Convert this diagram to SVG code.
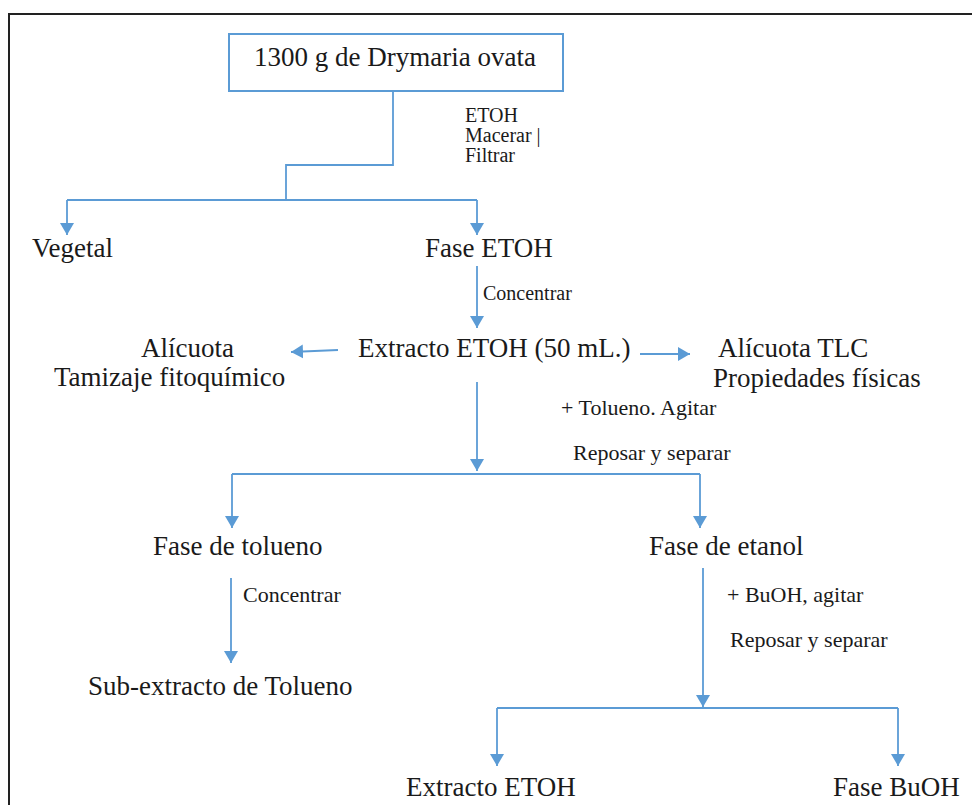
<svg xmlns="http://www.w3.org/2000/svg" width="972" height="805" viewBox="0 0 972 805">
<style>
text{font-family:'Liberation Serif','Tinos','Times New Roman','DejaVu Serif',serif;fill:#1a1a1a}
.t{font-size:27px}
.s{font-size:20px}
.m{font-size:22px}
.c{stroke:#5B9BD5;stroke-width:1.8;fill:none}
.a{stroke:#5B9BD5;stroke-width:1.8;fill:none;marker-end:url(#ah)}
</style>
<defs>
<marker id="ah" viewBox="0 -7 12 14" refX="12" refY="0" markerWidth="12" markerHeight="14" markerUnits="userSpaceOnUse" orient="auto">
<path d="M0,-7 L12,0 L0,7 z" fill="#5B9BD5"/>
</marker>
</defs>
<rect x="0" y="0" width="972" height="805" fill="#ffffff"/>
<path d="M9,810 V14 H980" fill="none" stroke="#222" stroke-width="2"/>
<g id="connectors">
<polyline class="c" points="393,91 393,165 286,165 286,200"/>
<line class="c" x1="67" y1="200" x2="477" y2="200"/>
<line class="a" x1="67" y1="200" x2="67" y2="235"/>
<line class="a" x1="477" y1="200" x2="477" y2="235"/>
<line class="a" x1="477" y1="266" x2="477" y2="328"/>
<line class="a" x1="338" y1="350" x2="291" y2="352"/>
<line class="a" x1="640" y1="354" x2="690" y2="354"/>
<line class="a" x1="477" y1="382" x2="477" y2="471"/>
<line class="c" x1="232" y1="474" x2="700" y2="474"/>
<line class="a" x1="232" y1="474" x2="232" y2="528"/>
<line class="a" x1="700" y1="474" x2="700" y2="528"/>
<line class="a" x1="231" y1="578" x2="231" y2="663"/>
<line class="a" x1="703" y1="568" x2="703" y2="707"/>
<line class="c" x1="497" y1="708" x2="898" y2="708"/>
<line class="a" x1="497" y1="708" x2="497" y2="766"/>
<line class="a" x1="898" y1="708" x2="898" y2="766"/>
</g>
<g id="labels">
<text class="s" x="465" y="122">ETOH</text>
<text class="s" x="465" y="142">Macerar |</text>
<text class="s" x="465" y="162">Filtrar</text>
<text class="s" x="483" y="300">Concentrar</text>
<text class="m" x="561" y="415">+ Tolueno. Agitar</text>
<text class="m" x="573" y="460">Reposar y separar</text>
<text class="m" x="243" y="602">Concentrar</text>
<text class="m" x="727" y="602">+ BuOH, agitar</text>
<text class="m" x="730" y="647">Reposar y separar</text>
</g>
<g id="node-drymaria">
<rect x="229" y="34" width="334" height="57" fill="#fff" stroke="#5B9BD5" stroke-width="2"/>
<text class="t" x="395" y="66" text-anchor="middle">1300 g de Drymaria ovata</text>
</g>
<g id="node-vegetal"><text class="t" x="32" y="257">Vegetal</text></g>
<g id="node-fase-etoh"><text class="t" x="425" y="257">Fase ETOH</text></g>
<g id="node-extracto-etoh"><text class="t" x="358" y="357">Extracto ETOH (50 mL.)</text></g>
<g id="node-alicuota"><text class="t" x="141" y="357">Alícuota</text><text class="t" x="54" y="386">Tamizaje fitoquímico</text></g>
<g id="node-alicuota-tlc"><text class="t" x="718" y="357">Alícuota TLC</text><text class="t" x="713" y="387">Propiedades físicas</text></g>
<g id="node-fase-tolueno"><text class="t" x="153" y="555">Fase de tolueno</text></g>
<g id="node-fase-etanol"><text class="t" x="649" y="555">Fase de etanol</text></g>
<g id="node-sub-extracto"><text class="t" x="88" y="695">Sub-extracto de Tolueno</text></g>
<g id="node-extracto-final"><text class="t" x="406" y="796">Extracto ETOH</text></g>
<g id="node-fase-buoh"><text class="t" x="833" y="796">Fase BuOH</text></g>
</svg>
